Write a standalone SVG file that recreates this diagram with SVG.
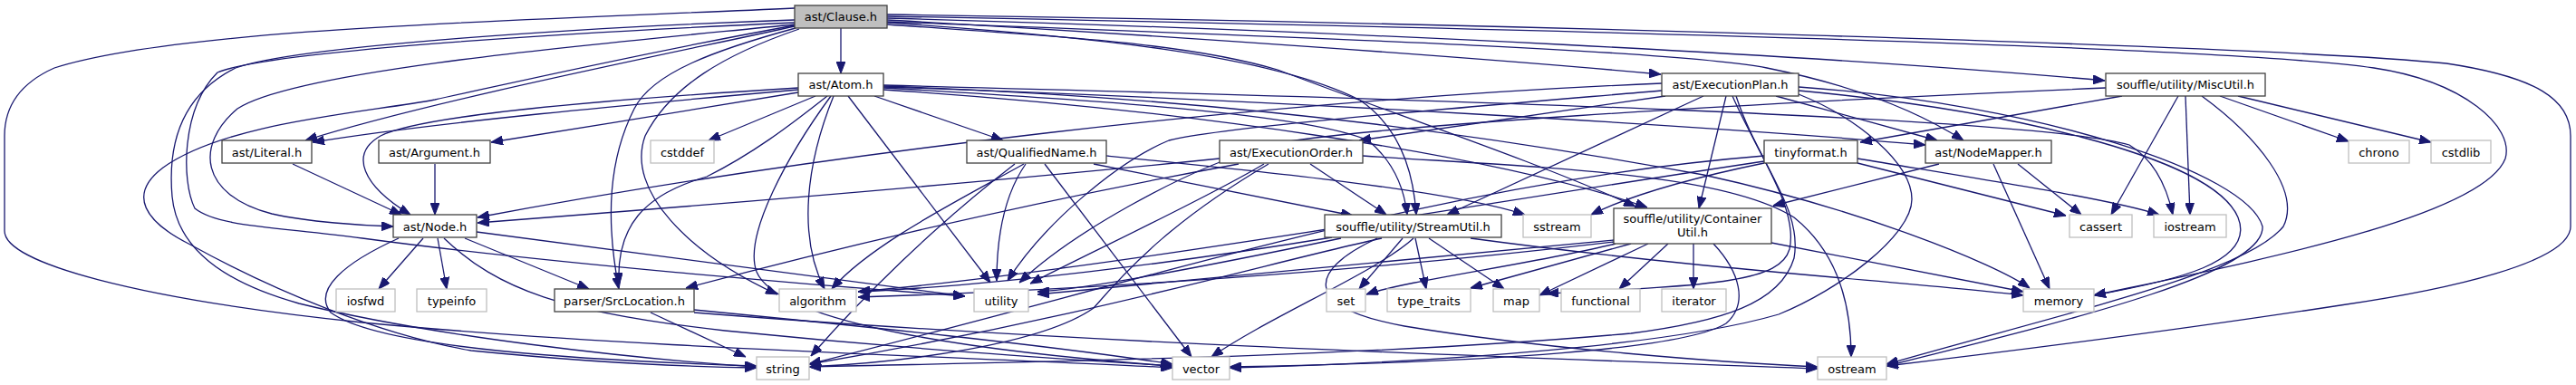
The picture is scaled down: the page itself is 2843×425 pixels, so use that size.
<svg xmlns="http://www.w3.org/2000/svg" width="2843" height="425" viewBox="0 0 2843 425">
<style>
.n rect{fill:#fff;stroke:#404040;stroke-width:1.3}
.g rect{fill:#fff;stroke:#bfbfbf;stroke-width:1.3}
.root rect{fill:#bfbfbf;stroke:#404040;stroke-width:1.3}
text{font-family:"DejaVu Sans","Liberation Sans",sans-serif;font-size:13px;fill:#000;text-anchor:middle}
.e path{fill:none;stroke:#191970;stroke-width:1.3;marker-end:url(#ah)}
</style>
<defs>
<marker id="ah" viewBox="0 0 13 10" refX="13" refY="5" markerWidth="13" markerHeight="10" markerUnits="userSpaceOnUse" orient="auto"><path d="M0,0 L13,5 L0,10 z" fill="#191970" stroke="#191970" stroke-width="1"/></marker>
</defs>
<rect width="2843" height="425" fill="#fff"/>
<g class="e" id="edges">
<path d="M928,31 L928,81"/>
<path d="M877,29 C760,55 480,110 337,155"/>
<path d="M877,27 C700,45 330,75 262,120 C215,160 220,215 300,236 C340,245 400,249 434,250"/>
<path d="M878,31 C790,55 720,80 700,120 C672,175 668,240 683,319"/>
<path d="M882,32 C800,60 740,95 712,150 C690,210 760,280 858,325"/>
<path d="M877,9 C600,22 200,30 60,75 C15,95 5,125 5,150 L5,255 C5,290 150,330 400,356 C700,385 1100,395 1294,406"/>
<path d="M877,22 C650,30 330,50 260,75 C200,105 185,160 190,217 C195,270 240,310 330,335 C480,372 700,396 835,405"/>
<path d="M877,25 C650,35 300,55 240,80 C200,120 200,200 215,230 C240,250 300,250 400,263 C600,290 900,315 1065,327"/>
<path d="M877,28 C700,60 550,95 480,110 C400,125 250,135 180,185 C140,215 160,245 210,270 C300,320 420,370 520,387 C650,400 760,405 835,406"/>
<path d="M979,22 C1300,40 1650,65 1833,82"/>
<path d="M979,20 C1500,35 2000,60 2323,89"/>
<path d="M979,24 C1400,40 1850,55 1950,75 C2050,95 2120,125 2167,155"/>
<path d="M979,25 C1200,40 1400,60 1500,110 C1545,140 1560,190 1563,237"/>
<path d="M979,27 C1150,40 1300,45 1410,77 C1550,130 1700,180 1805,228"/>
<path d="M979,18 C1600,30 2450,50 2620,75 C2720,90 2775,140 2765,175 C2740,240 2480,290 2311,326"/>
<path d="M979,16 C1600,25 2500,50 2700,70 C2800,85 2837,110 2837,150 L2837,250 C2837,290 2700,320 2583,337 C2400,365 2200,390 2082,404"/>
<path d="M881,99 C700,115 480,135 345,157"/>
<path d="M881,97 C700,108 470,125 420,150 C385,170 400,205 453,237"/>
<path d="M881,102 C800,115 650,140 542,157"/>
<path d="M900,106 L782,155"/>
<path d="M913,106 C870,140 830,170 780,195 C710,215 680,250 683,314"/>
<path d="M920,106 C890,180 880,260 910,319"/>
<path d="M917,106 C870,170 820,260 835,300 C860,360 1100,390 1294,404"/>
<path d="M936,106 L1093,312"/>
<path d="M965,106 L1107,155"/>
<path d="M975,97 C1200,110 1440,125 1510,155 C1540,180 1550,210 1553,237"/>
<path d="M975,99 C1300,120 1650,170 1818,229"/>
<path d="M975,96 C1400,110 1900,140 2125,160"/>
<path d="M975,94 C1600,110 2250,130 2350,160 C2375,175 2390,200 2398,237"/>
<path d="M975,95 C1400,110 1700,160 1880,193 C2050,230 2200,290 2240,318"/>
<path d="M323,181 L443,237"/>
<path d="M480,181 L480,237"/>
<path d="M1207,181 L1493,238"/>
<path d="M1221,172 C1400,190 1600,210 1683,237"/>
<path d="M1130,181 C1060,220 960,270 918,319"/>
<path d="M1132,181 C1105,220 1100,270 1100,310"/>
<path d="M1120,181 C1030,250 950,330 895,393"/>
<path d="M1153,181 L1315,394"/>
<path d="M1346,175 C1100,200 800,225 527,246"/>
<path d="M1367,181 C1100,230 900,280 757,318"/>
<path d="M1446,181 L1530,237"/>
<path d="M1395,181 C1330,220 1200,280 1137,313"/>
<path d="M1400,181 C1300,240 1250,290 1207,340 C1150,380 1000,400 893,405"/>
<path d="M1504,172 C1700,185 1900,190 1980,240 C2030,280 2043,340 2043,394"/>
<path d="M1834,92 C1400,110 900,170 527,240"/>
<path d="M1838,106 L1500,155"/>
<path d="M1880,106 L1597,237"/>
<path d="M1905,106 L1875,230"/>
<path d="M1960,106 L2138,155"/>
<path d="M1912,106 C1940,170 1985,230 1975,275 C1965,310 1900,315 1707,324"/>
<path d="M1985,104 C2050,130 2110,180 2110,220 C2110,260 2030,320 1963,347 C1850,380 1600,400 1357,406"/>
<path d="M1916,106 C1940,180 1990,230 1980,285 C1965,335 1900,355 1800,368 C1500,395 1100,400 893,405"/>
<path d="M1834,100 C1600,120 1350,140 1290,155 C1230,180 1150,250 1112,310"/>
<path d="M1985,100 C2200,120 2440,170 2470,240 C2490,290 2400,310 2311,326"/>
<path d="M1985,96 C2250,115 2480,190 2497,250 C2500,300 2300,350 2082,404"/>
<path d="M1947,180 C1850,200 1790,220 1756,237"/>
<path d="M2050,180 L2280,238"/>
<path d="M2050,175 C2200,200 2330,220 2383,237"/>
<path d="M1947,172 C1600,200 1300,300 893,402"/>
<path d="M1947,178 C1600,230 1200,300 947,322"/>
<path d="M2140,181 L1957,227"/>
<path d="M2227,181 L2297,237"/>
<path d="M2200,181 L2262,319"/>
<path d="M2342,106 L2053,157"/>
<path d="M2404,106 L2330,237"/>
<path d="M2412,106 L2417,237"/>
<path d="M2450,106 L2592,156"/>
<path d="M2470,106 L2683,157"/>
<path d="M2430,106 C2490,150 2540,210 2520,250 C2480,300 2300,340 2082,402"/>
<path d="M2324,97 C1900,115 1500,140 1400,160 C1300,190 1180,260 1125,312"/>
<path d="M1548,263 L1500,319"/>
<path d="M1562,263 L1574,319"/>
<path d="M1577,263 L1660,319"/>
<path d="M1525,263 C1400,290 1200,350 893,402"/>
<path d="M1560,263 C1520,300 1400,350 1337,394"/>
<path d="M1623,263 C1900,300 2100,310 2233,326"/>
<path d="M1480,263 C1350,290 1200,320 1145,322"/>
<path d="M1470,262 C1300,290 1100,315 947,322"/>
<path d="M1520,263 C1440,300 1440,340 1550,360 C1700,385 1900,400 2006,405"/>
<path d="M1783,269 C1700,290 1550,310 1508,325"/>
<path d="M1800,269 L1623,318"/>
<path d="M1819,269 L1699,326"/>
<path d="M1841,269 L1787,319"/>
<path d="M1869,269 L1869,319"/>
<path d="M1955,268 L2233,322"/>
<path d="M1891,269 C1920,300 1930,335 1905,357 C1860,385 1650,400 1357,405"/>
<path d="M1781,265 C1500,290 1300,310 1145,325"/>
<path d="M1781,267 C1500,300 1200,320 947,328"/>
<path d="M467,263 L418,319"/>
<path d="M483,263 L493,319"/>
<path d="M513,263 L650,319"/>
<path d="M440,263 C380,290 345,320 365,345 C420,385 650,398 835,404"/>
<path d="M490,263 C550,320 620,345 800,365 C1000,385 1150,395 1294,404"/>
<path d="M526,256 L1065,327"/>
<path d="M718,345 L823,394"/>
<path d="M766,342 C950,360 1150,380 1294,402"/>
<path d="M766,345 C1200,380 1700,395 2006,407"/>
</g>
<g id="clause" class="root"><rect x="877" y="6" width="102" height="25"/><text x="928" y="23">ast/Clause.h</text></g>
<g id="atom" class="n"><rect x="881" y="81" width="94" height="25"/><text x="928" y="98">ast/Atom.h</text></g>
<g id="executionplan" class="n"><rect x="1834" y="81" width="151" height="25"/><text x="1909.5" y="98">ast/ExecutionPlan.h</text></g>
<g id="miscutil" class="n"><rect x="2324" y="81" width="176" height="25"/><text x="2412" y="98">souffle/utility/MiscUtil.h</text></g>
<g id="literal" class="n"><rect x="245" y="155" width="99" height="25"/><text x="294.5" y="172.5">ast/Literal.h</text></g>
<g id="argument" class="n"><rect x="418" y="155" width="123" height="25"/><text x="479.5" y="172.5">ast/Argument.h</text></g>
<g id="cstddef" class="g"><rect x="718" y="155" width="70" height="25"/><text x="753" y="172.5">cstddef</text></g>
<g id="qualifiedname" class="n"><rect x="1067" y="155" width="154" height="25"/><text x="1144" y="172.5">ast/QualifiedName.h</text></g>
<g id="executionorder" class="n"><rect x="1346" y="155" width="158" height="25"/><text x="1425" y="172.5">ast/ExecutionOrder.h</text></g>
<g id="tinyformat" class="n"><rect x="1947" y="155" width="103" height="25"/><text x="1998.5" y="172.5">tinyformat.h</text></g>
<g id="nodemapper" class="n"><rect x="2125" y="155" width="139" height="25"/><text x="2194.5" y="172.5">ast/NodeMapper.h</text></g>
<g id="chrono" class="g"><rect x="2592" y="155" width="67" height="25"/><text x="2625.5" y="172.5">chrono</text></g>
<g id="cstdlib" class="g"><rect x="2683" y="155" width="66" height="25"/><text x="2716" y="172.5">cstdlib</text></g>
<g id="node" class="n"><rect x="434" y="237" width="92" height="25"/><text x="480" y="254.5">ast/Node.h</text></g>
<g id="streamutil" class="n"><rect x="1462" y="237" width="195" height="25"/><text x="1559.5" y="254.5">souffle/utility/StreamUtil.h</text></g>
<g id="sstream" class="g"><rect x="1681" y="237" width="75" height="25"/><text x="1718.5" y="254.5">sstream</text></g>
<g id="containerutil" class="n"><rect x="1781" y="230" width="174" height="39"/><text x="1868" y="246">souffle/utility/Container</text><text x="1868" y="261">Util.h</text></g>
<g id="cassert" class="g"><rect x="2284" y="237" width="69" height="25"/><text x="2318.5" y="254.5">cassert</text></g>
<g id="iostream" class="g"><rect x="2377" y="237" width="80" height="25"/><text x="2417" y="254.5">iostream</text></g>
<g id="iosfwd" class="g"><rect x="371" y="319" width="65" height="25"/><text x="403.5" y="336.5">iosfwd</text></g>
<g id="typeinfo" class="g"><rect x="460" y="319" width="77" height="25"/><text x="498.5" y="336.5">typeinfo</text></g>
<g id="srclocation" class="n"><rect x="612" y="319" width="154" height="25"/><text x="689" y="336.5">parser/SrcLocation.h</text></g>
<g id="algorithm" class="g"><rect x="860" y="319" width="85" height="25"/><text x="902.5" y="336.5">algorithm</text></g>
<g id="utility" class="g"><rect x="1075" y="319" width="60" height="25"/><text x="1105" y="336.5">utility</text></g>
<g id="set" class="g"><rect x="1464" y="319" width="43" height="25"/><text x="1485.5" y="336.5">set</text></g>
<g id="type_traits" class="g"><rect x="1531" y="319" width="92" height="25"/><text x="1577" y="336.5">type_traits</text></g>
<g id="map" class="g"><rect x="1648" y="319" width="51" height="25"/><text x="1673.5" y="336.5">map</text></g>
<g id="functional" class="g"><rect x="1723" y="319" width="87" height="25"/><text x="1766.5" y="336.5">functional</text></g>
<g id="iterator" class="g"><rect x="1834" y="319" width="71" height="25"/><text x="1869.5" y="336.5">iterator</text></g>
<g id="memory" class="g"><rect x="2233" y="319" width="78" height="25"/><text x="2272" y="336.5">memory</text></g>
<g id="string" class="g"><rect x="835" y="394" width="58" height="25"/><text x="864" y="411.5">string</text></g>
<g id="vector" class="g"><rect x="1294" y="394" width="63" height="25"/><text x="1325.5" y="411.5">vector</text></g>
<g id="ostream" class="g"><rect x="2006" y="394" width="76" height="25"/><text x="2044" y="411.5">ostream</text></g>
</svg>
